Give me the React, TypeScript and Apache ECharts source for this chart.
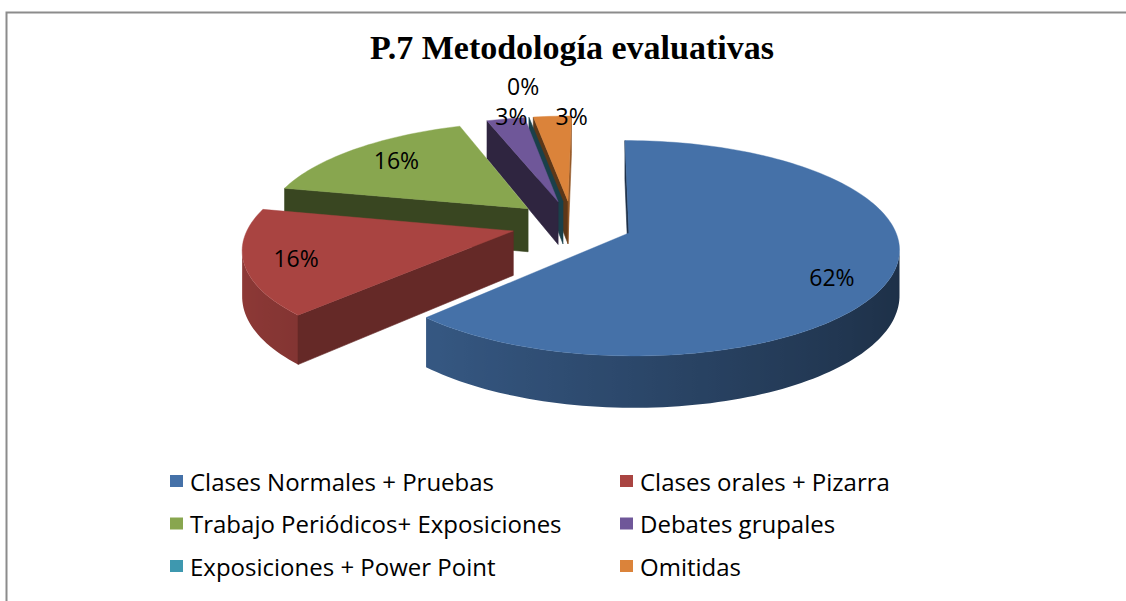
import React, { useEffect, useRef } from "react";
import * as echarts from "echarts";

// ---------- data ----------
const TITLE = "P.7 Metodología evaluativas";
const categories = [
  "Clases Normales + Pruebas",
  "Clases orales + Pizarra",
  "Trabajo Periódicos+ Exposiciones",
  "Debates grupales",
  "Exposiciones + Power Point",
  "Omitidas",
];
// percentage shares (labels show them rounded)
const values = [62.2, 16.2, 16.2, 2.7, 0, 2.7];
const colors = ["#4571A8", "#A94441", "#88A64F", "#6F5799", "#3E98AF", "#DB833A"];

// ---------- layout / projection ----------
const GEO = { vx: 597, cy: 224, camX: 0.094, sx: 264, sz: 103, sy: 44, persp: 0.14, explode: 0.23 };
const LABEL_LAYOUT = [
  { r: 0.78, dx: 0, dy: 12 },
  { r: 0.78, dx: -9, dy: 2 },
  { r: 0.78, dx: 5, dy: -1 },
  { r: 1.05, dx: 8, dy: 1 },
  { r: 1.3, dx: 3, dy: -10 },
  { r: 1.05, dx: 20, dy: 3 },
];
const FONT = "Open Sans";

function project(X: number, Z: number, Y: number): number[] {
  const d = 1 + GEO.persp * Z;
  return [GEO.vx + ((X - GEO.camX) * GEO.sx) / d, GEO.cy - (Z * GEO.sz + Y * GEO.sy) / d];
}
function shade(hex: string, k: number): string {
  const n = parseInt(hex.slice(1), 16);
  const r = Math.min(255, Math.round(((n >> 16) & 255) * k));
  const g = Math.min(255, Math.round(((n >> 8) & 255) * k));
  const b = Math.min(255, Math.round((n & 255) * k));
  return `rgb(${r},${g},${b})`;
}
function area(pts: number[][]): number {
  let s = 0;
  for (let i = 0; i < pts.length; i++) {
    const a = pts[i];
    const b = pts[(i + 1) % pts.length];
    s += a[0] * b[1] - b[0] * a[1];
  }
  return s / 2;
}

type Slice = { i: number; a0: number; a1: number; mid: number; ox: number; oz: number };
function buildSlices(): Slice[] {
  const total = values.reduce((a, b) => a + b, 0);
  let acc = 0;
  return values.map((v, i) => {
    const a0 = (acc / total) * 2 * Math.PI;
    acc += v;
    const a1 = (acc / total) * 2 * Math.PI;
    const mid = (a0 + a1) / 2;
    return { i, a0, a1, mid, ox: GEO.explode * Math.sin(mid), oz: GEO.explode * Math.cos(mid) };
  });
}

export default function App() {
  const ref = useRef<HTMLDivElement>(null);
  useEffect(() => {
    if (!ref.current) return;
    const chart = echarts.init(ref.current, null, { renderer: "svg" });
    const total = values.reduce((a, b) => a + b, 0);
    const slices = buildSlices();
    const order = slices.slice().sort((a, b) => b.oz - a.oz).map((s) => s.i);

    const renderItem = (params: any) => {
      const s = slices[params.dataIndex];
      const color = colors[s.i];
      const rank = order.indexOf(s.i);
      const P = (th: number, r: number, Y: number) =>
        project(s.ox + r * Math.sin(th), s.oz + r * Math.cos(th), Y);
      const children: any[] = [];
      const span = s.a1 - s.a0;
      const steps = Math.max(1, Math.ceil(span / (Math.PI / 120)));

      // curved outer wall: contiguous visible runs, one gradient polygon each
      if (span > 0) {
        let run: { tops: number[][]; bots: number[][]; stops: { x: number; c: string }[] } | null = null;
        const flush = () => {
          if (!run) return;
          const pts = run.tops.concat(run.bots.slice().reverse());
          const xs = pts.map((p) => p[0]);
          const minX = Math.min(...xs);
          const maxX = Math.max(...xs);
          const w = Math.max(1, maxX - minX);
          const stops = run.stops
            .map((st) => ({ offset: Math.min(1, Math.max(0, (st.x - minX) / w)), color: st.c }))
            .sort((a, b) => a.offset - b.offset);
          const fill = new echarts.graphic.LinearGradient(minX, 0, maxX, 0, stops, true);
          children.push({
            type: "polygon",
            shape: { points: pts },
            style: { fill, stroke: "none" },
            z2: rank * 10 + 1,
          });
          run = null;
        };
        for (let k = 0; k < steps; k++) {
          const t0 = s.a0 + (span * k) / steps;
          const t1 = s.a0 + (span * (k + 1)) / steps;
          const quad = [P(t0, 1, 0), P(t1, 1, 0), P(t1, 1, -1), P(t0, 1, -1)];
          if (area(quad) < 0) {
            const nX = Math.sin((t0 + t1) / 2);
            const c = shade(color, 0.63 - 0.21 * nX);
            if (!run) run = { tops: [quad[0]], bots: [quad[3]], stops: [] };
            run.tops.push(quad[1]);
            run.bots.push(quad[2]);
            run.stops.push({ x: (quad[0][0] + quad[1][0]) / 2, c });
          } else {
            flush();
          }
        }
        flush();
      }

      const C0 = project(s.ox, s.oz, 0);
      const C1 = project(s.ox, s.oz, -1);
      const startFace = [C0, P(s.a0, 1, 0), P(s.a0, 1, -1), C1];
      if (area(startFace) < 0) {
        const nX = -Math.cos(s.a0);
        const c = shade(color, 0.42 + 0.25 * Math.max(0, nX));
        children.push({
          type: "polygon",
          shape: { points: startFace },
          style: { fill: c, stroke: c, lineWidth: 0.6 },
          z2: rank * 10 + 2,
        });
      }
      const endFace = [P(s.a1, 1, 0), C0, C1, P(s.a1, 1, -1)];
      if (area(endFace) < 0) {
        const nX = Math.cos(s.a1);
        const c = shade(color, 0.42 + 0.25 * Math.max(0, nX));
        children.push({
          type: "polygon",
          shape: { points: endFace },
          style: { fill: c, stroke: c, lineWidth: 0.6 },
          z2: rank * 10 + 2,
        });
      }
      if (span > 0) {
        const pts = [C0];
        for (let k = 0; k <= steps; k++) pts.push(P(s.a0 + (span * k) / steps, 1, 0));
        children.push({
          type: "polygon",
          shape: { points: pts },
          style: { fill: color, stroke: color, lineWidth: 0.4 },
          z2: rank * 10 + 5,
        });
      }
      const L = LABEL_LAYOUT[s.i];
      const lp = P(s.mid, L.r, 0);
      children.push({
        type: "text",
        x: lp[0] + L.dx,
        y: lp[1] + L.dy,
        style: {
          text: Math.round((values[s.i] / total) * 100) + "%",
          fill: "#000",
          font: `23px "${FONT}"`,
          align: "center",
          verticalAlign: "middle",
        },
        z2: 200,
      });
      return { type: "group", children };
    };

    const legendText = {
      fontFamily: FONT,
      fontSize: 24,
      color: "#000",
      lineHeight: 26,
      padding: [0, 0, 0, 2],
    };
    const legendBase = {
      orient: "vertical",
      top: 463,
      itemWidth: 13,
      itemHeight: 12,
      itemGap: 16.5,
      icon: "rect",
      selectedMode: false,
      textStyle: legendText,
    };

    chart.setOption({
      animation: false,
      backgroundColor: "#fff",
      graphic: [
        {
          type: "rect",
          shape: { x: 6.5, y: 12.5, width: 1300, height: 800 },
          style: { fill: "none", stroke: "#8c8c8c", lineWidth: 2 },
          silent: true,
        },
        {
          type: "text",
          x: 572,
          y: 47,
          style: {
            text: TITLE,
            font: 'bold 34px "Liberation Serif"',
            fill: "#000",
            align: "center",
            verticalAlign: "middle",
          },
        },
      ],
      legend: [
        { ...legendBase, left: 165, data: [categories[0], categories[2], categories[4]] },
        { ...legendBase, left: 615, data: [categories[1], categories[3], categories[5]] },
      ],
      series: [
        {
          type: "custom",
          coordinateSystem: "none",
          renderItem,
          data: values.map((v, i) => ({ name: categories[i], value: [i, v] })),
          silent: true,
        },
        {
          type: "pie",
          radius: [0, 0],
          center: [-100, -100],
          silent: true,
          label: { show: false },
          labelLine: { show: false },
          data: categories.map((n, i) => ({ name: n, value: values[i], itemStyle: { color: colors[i] } })),
        },
      ],
    });
    return () => chart.dispose();
  }, []);
  return (
    <div
      ref={ref}
      style={{ position: "fixed", left: 0, top: 0, width: 1126, height: 601, background: "#fff" }}
    />
  );
}
